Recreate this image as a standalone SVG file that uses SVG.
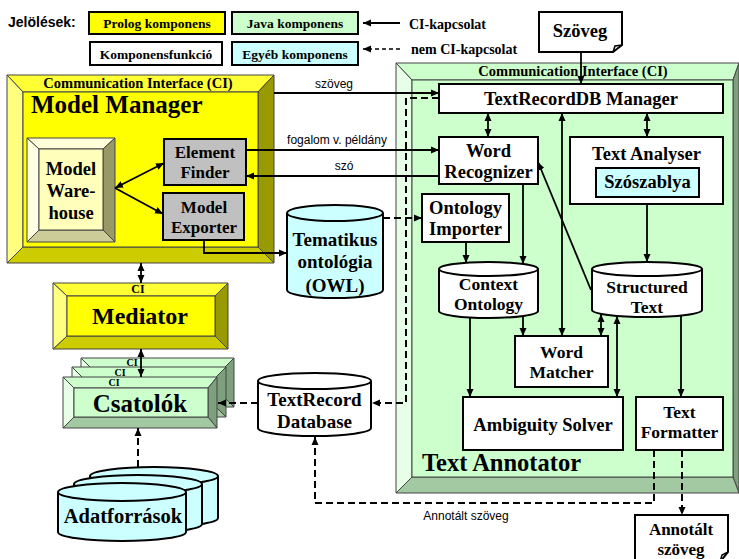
<svg xmlns="http://www.w3.org/2000/svg" width="739" height="559" viewBox="0 0 739 559">
<defs>
<marker id="ah" markerUnits="userSpaceOnUse" markerWidth="10" markerHeight="8" refX="8" refY="4" orient="auto-start-reverse"><path d="M0,0.5 L8,4 L0,7.5 z" fill="#000"/></marker>
</defs>
<style>
.b{stroke:#000;stroke-width:2}
.t{font-family:"Liberation Serif","Times New Roman",serif;font-weight:bold;fill:#000;text-anchor:middle}
.l{text-anchor:start}
.s{font-family:"Liberation Sans",Arial,sans-serif;fill:#000}
.c{fill:none;stroke:#000;stroke-width:1.8}
.d{fill:none;stroke:#000;stroke-width:2;stroke-dasharray:7 4}
.bv{stroke:#444;stroke-width:1}
.f18{font-size:18.5px}
.f17{font-size:17.5px}
</style>
<rect width="739" height="559" fill="#fff"/>

<g id="legend">
<text class="s" x="8" y="27" font-size="14" font-weight="bold">Jelölések:</text>
<rect x="89" y="12" width="136" height="22" fill="#ffff00" class="b"/>
<text class="t" x="157" y="28" font-size="13.5">Prolog komponens</text>
<rect x="232" y="12" width="126" height="22" fill="#ccffcc" class="b"/>
<text class="t" x="295" y="28" font-size="13.5">Java komponens</text>
<rect x="90" y="42" width="132" height="23" fill="#fff" class="b"/>
<text class="t" x="156" y="59" font-size="13.5">Komponensfunkció</text>
<rect x="232" y="42" width="126" height="23" fill="#ccffff" class="b"/>
<text class="t" x="295" y="59" font-size="13.5">Egyéb komponens</text>
<line x1="400" y1="23" x2="363" y2="23" class="c" marker-end="url(#ah)"/>
<line x1="400" y1="49" x2="363" y2="49" fill="none" stroke="#000" stroke-width="1.5" stroke-dasharray="4 3" marker-end="url(#ah)"/>
<text class="t l" x="409" y="29" font-size="14">CI-kapcsolat</text>
<text class="t l" x="411" y="54" font-size="14">nem CI-kapcsolat</text>
</g>

<g id="text-annotator">
<polygon class="bv" points="396,63 739,63 733,80 412,80" fill="#ccffcc"/>
<polygon class="bv" points="739,63 739,493 733,477 733,80" fill="#7fa07f"/>
<polygon class="bv" points="739,493 396,493 412,477 733,477" fill="#a3c9a3"/>
<polygon class="bv" points="396,493 396,63 412,80 412,477" fill="#e6ffe6"/>
<rect x="412" y="80" width="321" height="397" fill="#ccffcc" class="bv"/>
<text class="t" x="573" y="76" font-size="14.5">Communication Interface (CI)</text>
<text class="t l" x="422" y="471" font-size="24.5">Text Annotator</text>
</g>

<g id="model-manager">
<polygon class="bv" points="7,75 274,75 258,92 23,92" fill="#ffff33"/>
<polygon class="bv" points="274,75 274,263 258,247 258,92" fill="#999900"/>
<polygon class="bv" points="274,263 7,263 23,247 258,247" fill="#cccc00"/>
<polygon class="bv" points="7,263 7,75 23,92 23,247" fill="#ffff80"/>
<rect x="23" y="92" width="235" height="155" fill="#ffff00" class="bv"/>
<text class="t" x="138" y="88" font-size="14.5">Communication Interface (CI)</text>
<text class="t l" x="31" y="113" font-size="25">Model Manager</text>
</g>

<g id="model-warehouse">
<polygon class="bv" points="27,138 115,138 103,149 39,149" fill="#ffffd9"/>
<polygon class="bv" points="115,138 115,242 103,230 103,149" fill="#999966"/>
<polygon class="bv" points="115,242 27,242 39,230 103,230" fill="#cccc99"/>
<polygon class="bv" points="27,242 27,138 39,149 39,230" fill="#ffffe6"/>
<rect x="39" y="149" width="64" height="81" fill="#ffffbb" class="bv"/>
<text class="t f18" x="71" y="175">Model</text>
<text class="t f18" x="71" y="197">Ware-</text>
<text class="t f18" x="71" y="219">house</text>
</g>

<g id="element-finder">
<rect x="164" y="139" width="82" height="46" fill="#c0c0c0" class="b"/>
<text class="t" x="205" y="158" font-size="17">Element</text>
<text class="t" x="205" y="178" font-size="17">Finder</text>
</g>

<g id="model-exporter">
<rect x="163" y="193" width="81" height="47" fill="#c0c0c0" class="b"/>
<text class="t" x="204" y="213" font-size="17">Model</text>
<text class="t" x="204" y="233" font-size="17">Exporter</text>
</g>

<g id="tematikus-ontologia">
<path d="M287,213 V290 A48,8 0 0 0 383,290 V213" fill="#ccffff" class="b"/>
<ellipse cx="335" cy="213" rx="48" ry="8" fill="#ccffff" class="b"/>
<text class="t" x="335" y="246" font-size="19">Tematikus</text>
<text class="t" x="335" y="268" font-size="19">ontológia</text>
<text class="t" x="335" y="292" font-size="19">(OWL)</text>
</g>

<g id="mediator">
<polygon class="bv" points="53,283 228,283 215,296 67,296" fill="#ffff33"/>
<polygon class="bv" points="228,283 228,349 215,336 215,296" fill="#999900"/>
<polygon class="bv" points="228,349 53,349 67,336 215,336" fill="#cccc00"/>
<polygon class="bv" points="53,349 53,283 67,296 67,336" fill="#ffff80"/>
<rect x="67" y="296" width="148" height="40" fill="#ffff00" class="bv"/>
<text class="t" x="138" y="293" font-size="12">CI</text>
<text class="t" x="140" y="324" font-size="24">Mediator</text>
</g>

<g id="csatolok">
<g>
<polygon class="bv" points="81,358 234,358 223,369 92,369" fill="#ccffcc"/>
<polygon class="bv" points="234,358 234,407 223,396 223,369" fill="#7fa07f"/>
<polygon class="bv" points="234,407 81,407 92,396 223,396" fill="#a3c9a3"/>
<polygon class="bv" points="81,407 81,358 92,369 92,396" fill="#e6ffe6"/>
<rect x="92" y="369" width="131" height="27" fill="#ccffcc" class="bv"/>
<text class="t" x="132" y="366" font-size="10">CI</text>
</g>
<g>
<polygon class="bv" points="72,367 226,367 215,378 83,378" fill="#ccffcc"/>
<polygon class="bv" points="226,367 226,417 215,406 215,378" fill="#7fa07f"/>
<polygon class="bv" points="226,417 72,417 83,406 215,406" fill="#a3c9a3"/>
<polygon class="bv" points="72,417 72,367 83,378 83,406" fill="#e6ffe6"/>
<rect x="83" y="378" width="132" height="28" fill="#ccffcc" class="bv"/>
<text class="t" x="120" y="376" font-size="10">CI</text>
</g>
<g>
<polygon class="bv" points="63,377 217,377 208,388 74,388" fill="#ccffcc"/>
<polygon class="bv" points="217,377 217,428 208,417 208,388" fill="#7fa07f"/>
<polygon class="bv" points="217,428 63,428 74,417 208,417" fill="#a3c9a3"/>
<polygon class="bv" points="63,428 63,377 74,388 74,417" fill="#e6ffe6"/>
<rect x="74" y="388" width="134" height="29" fill="#ccffcc" class="bv"/>
<text class="t" x="114" y="386" font-size="10">CI</text>
<text class="t" x="140" y="412" font-size="25">Csatolók</text>
</g>
</g>

<g id="adatforrasok">
<path d="M90,476 V518 A64,9 0 0 0 218,518 V476" fill="#ccffff" class="b"/>
<ellipse cx="154" cy="476" rx="64" ry="9" fill="#ccffff" class="b"/>
<path d="M74,484 V524 A64,9 0 0 0 202,524 V484" fill="#ccffff" class="b"/>
<ellipse cx="138" cy="484" rx="64" ry="9" fill="#ccffff" class="b"/>
<path d="M58,492 V532 A64,9 0 0 0 186,532 V492" fill="#ccffff" class="b"/>
<ellipse cx="122" cy="492" rx="64" ry="9" fill="#ccffff" class="b"/>
<text class="t" x="123" y="523" font-size="20.5">Adatforrások</text>
</g>

<g id="textrecord-database">
<path d="M258,381 V428 A56.5,8 0 0 0 371,428 V381" fill="#fff" class="b"/>
<ellipse cx="314.5" cy="381" rx="56.5" ry="8" fill="#fff" class="b"/>
<text class="t" x="314.5" y="406" font-size="19">TextRecord</text>
<text class="t" x="314.5" y="428" font-size="19">Database</text>
</g>

<g id="szoveg">
<path d="M539,12 H622 V45 L613,52 H539 Z" fill="#fff" class="b"/>
<path d="M613,52 L615,46 L622,45" fill="none" stroke="#000" stroke-width="1.5"/>
<text class="t f18" x="580" y="37">Szöveg</text>
</g>

<g id="textrecorddb-manager">
<rect x="439" y="84" width="284" height="29" fill="#fff" class="b"/>
<text class="t" x="581" y="105" font-size="18.5">TextRecordDB Manager</text>
</g>

<g id="word-recognizer">
<rect x="439" y="137" width="99" height="47" fill="#fff" class="b"/>
<text class="t f18" x="488.5" y="157">Word</text>
<text class="t f18" x="488.5" y="178">Recognizer</text>
</g>

<g id="text-analyser">
<rect x="570" y="137" width="153" height="67" fill="#fff" class="b"/>
<text class="t f18" x="646.5" y="160">Text Analyser</text>
</g>

<g id="szoszablya">
<rect x="596" y="168" width="103" height="29" fill="#ccffff" class="b"/>
<text class="t f18" x="647.5" y="188">Szószablya</text>
</g>

<g id="ontology-importer">
<rect x="422" y="194" width="87" height="48" fill="#fff" class="b"/>
<text class="t f18" x="465.5" y="214">Ontology</text>
<text class="t f18" x="465.5" y="235">Importer</text>
</g>

<g id="context-ontology">
<path d="M439,269 V311 A49.5,7 0 0 0 538,311 V269" fill="#fff" class="b"/>
<ellipse cx="488.5" cy="269" rx="49.5" ry="7" fill="#fff" class="b"/>
<text class="t f17" x="488.5" y="290">Context</text>
<text class="t f17" x="488.5" y="310">Ontology</text>
</g>

<g id="structured-text">
<path d="M592,269 V310 A55,7 0 0 0 702,310 V269" fill="#fff" class="b"/>
<ellipse cx="647" cy="269" rx="55" ry="7" fill="#fff" class="b"/>
<text class="t f17" x="647" y="293">Structured</text>
<text class="t f17" x="647" y="313">Text</text>
</g>

<g id="word-matcher">
<rect x="515" y="336" width="93" height="51" fill="#fff" class="b"/>
<text class="t f17" x="561.5" y="358">Word</text>
<text class="t f17" x="561.5" y="378">Matcher</text>
</g>

<g id="ambiguity-solver">
<rect x="463" y="397" width="160" height="53" fill="#fff" class="b"/>
<text class="t f18" x="543" y="431">Ambiguity Solver</text>
</g>

<g id="text-formatter">
<rect x="636" y="397" width="87" height="53" fill="#fff" class="b"/>
<text class="t f17" x="679.5" y="418">Text</text>
<text class="t f17" x="679.5" y="438">Formatter</text>
</g>

<g id="annotalt-szoveg">
<path d="M635,515 H728 V552 L720,562 H635 Z" fill="#fff" class="b"/>
<path d="M720,562 L722,555 L728,552" fill="none" stroke="#000" stroke-width="1.5"/>
<text class="t" x="681" y="535" font-size="17">Annotált</text>
<text class="t" x="681" y="555" font-size="17">szöveg</text>
</g>

<g id="connectors">
<line class="c" x1="581" y1="52" x2="581" y2="84" marker-end="url(#ah)"/>
<line class="c" x1="274" y1="93" x2="439" y2="93" marker-end="url(#ah)"/>
<line class="c" x1="246" y1="150" x2="439" y2="150" marker-end="url(#ah)"/>
<line class="c" x1="439" y1="176" x2="246" y2="176" marker-end="url(#ah)"/>
<line class="c" x1="488" y1="113" x2="488" y2="137" marker-start="url(#ah)" marker-end="url(#ah)"/>
<line class="c" x1="647" y1="113" x2="647" y2="137" marker-start="url(#ah)" marker-end="url(#ah)"/>
<line class="c" x1="562" y1="113" x2="562" y2="336" marker-start="url(#ah)" marker-end="url(#ah)"/>
<line class="c" x1="466" y1="242" x2="466" y2="263" marker-end="url(#ah)"/>
<line class="c" x1="523" y1="184" x2="523" y2="264" marker-end="url(#ah)"/>
<line class="c" x1="647" y1="204" x2="647" y2="262" marker-end="url(#ah)"/>
<line class="c" x1="591" y1="290" x2="538" y2="162" marker-end="url(#ah)"/>
<line class="c" x1="523" y1="316" x2="523" y2="336" marker-end="url(#ah)"/>
<line class="c" x1="601" y1="314" x2="601" y2="336" marker-start="url(#ah)" marker-end="url(#ah)"/>
<line class="c" x1="617" y1="316" x2="617" y2="397" marker-start="url(#ah)" marker-end="url(#ah)"/>
<line class="c" x1="470" y1="317" x2="470" y2="397" marker-end="url(#ah)"/>
<line class="c" x1="681" y1="316" x2="681" y2="397" marker-end="url(#ah)"/>
<line class="d" x1="383" y1="218" x2="422" y2="218" marker-end="url(#ah)"/>
<path class="c" d="M204,240 V253 H287" marker-end="url(#ah)"/>
<line class="c" x1="115" y1="188" x2="164" y2="163" marker-start="url(#ah)" marker-end="url(#ah)"/>
<line class="c" x1="115" y1="188" x2="163" y2="214" marker-end="url(#ah)"/>
<line class="c" x1="141" y1="263" x2="141" y2="283" marker-start="url(#ah)" marker-end="url(#ah)"/>
<line class="c" x1="141" y1="349" x2="141" y2="377" marker-start="url(#ah)" marker-end="url(#ah)"/>
<line class="d" x1="138" y1="467" x2="138" y2="428" marker-end="url(#ah)"/>
<line class="d" x1="258" y1="403" x2="218" y2="403" marker-end="url(#ah)"/>
<path class="d" d="M439,98 H406 V403 H372" marker-end="url(#ah)"/>
<path class="d" d="M654,450 V503 H315 V437" marker-end="url(#ah)"/>
<line class="d" x1="682" y1="450" x2="682" y2="515" marker-end="url(#ah)"/>
<text class="s" x="334" y="88" font-size="12" text-anchor="middle">szöveg</text>
<text class="s" x="337" y="144" font-size="12" text-anchor="middle">fogalom v. példány</text>
<text class="s" x="344" y="170" font-size="12" text-anchor="middle">szó</text>
<text class="s" x="466" y="520" font-size="12" text-anchor="middle">Annotált szöveg</text>
</g>
</svg>
